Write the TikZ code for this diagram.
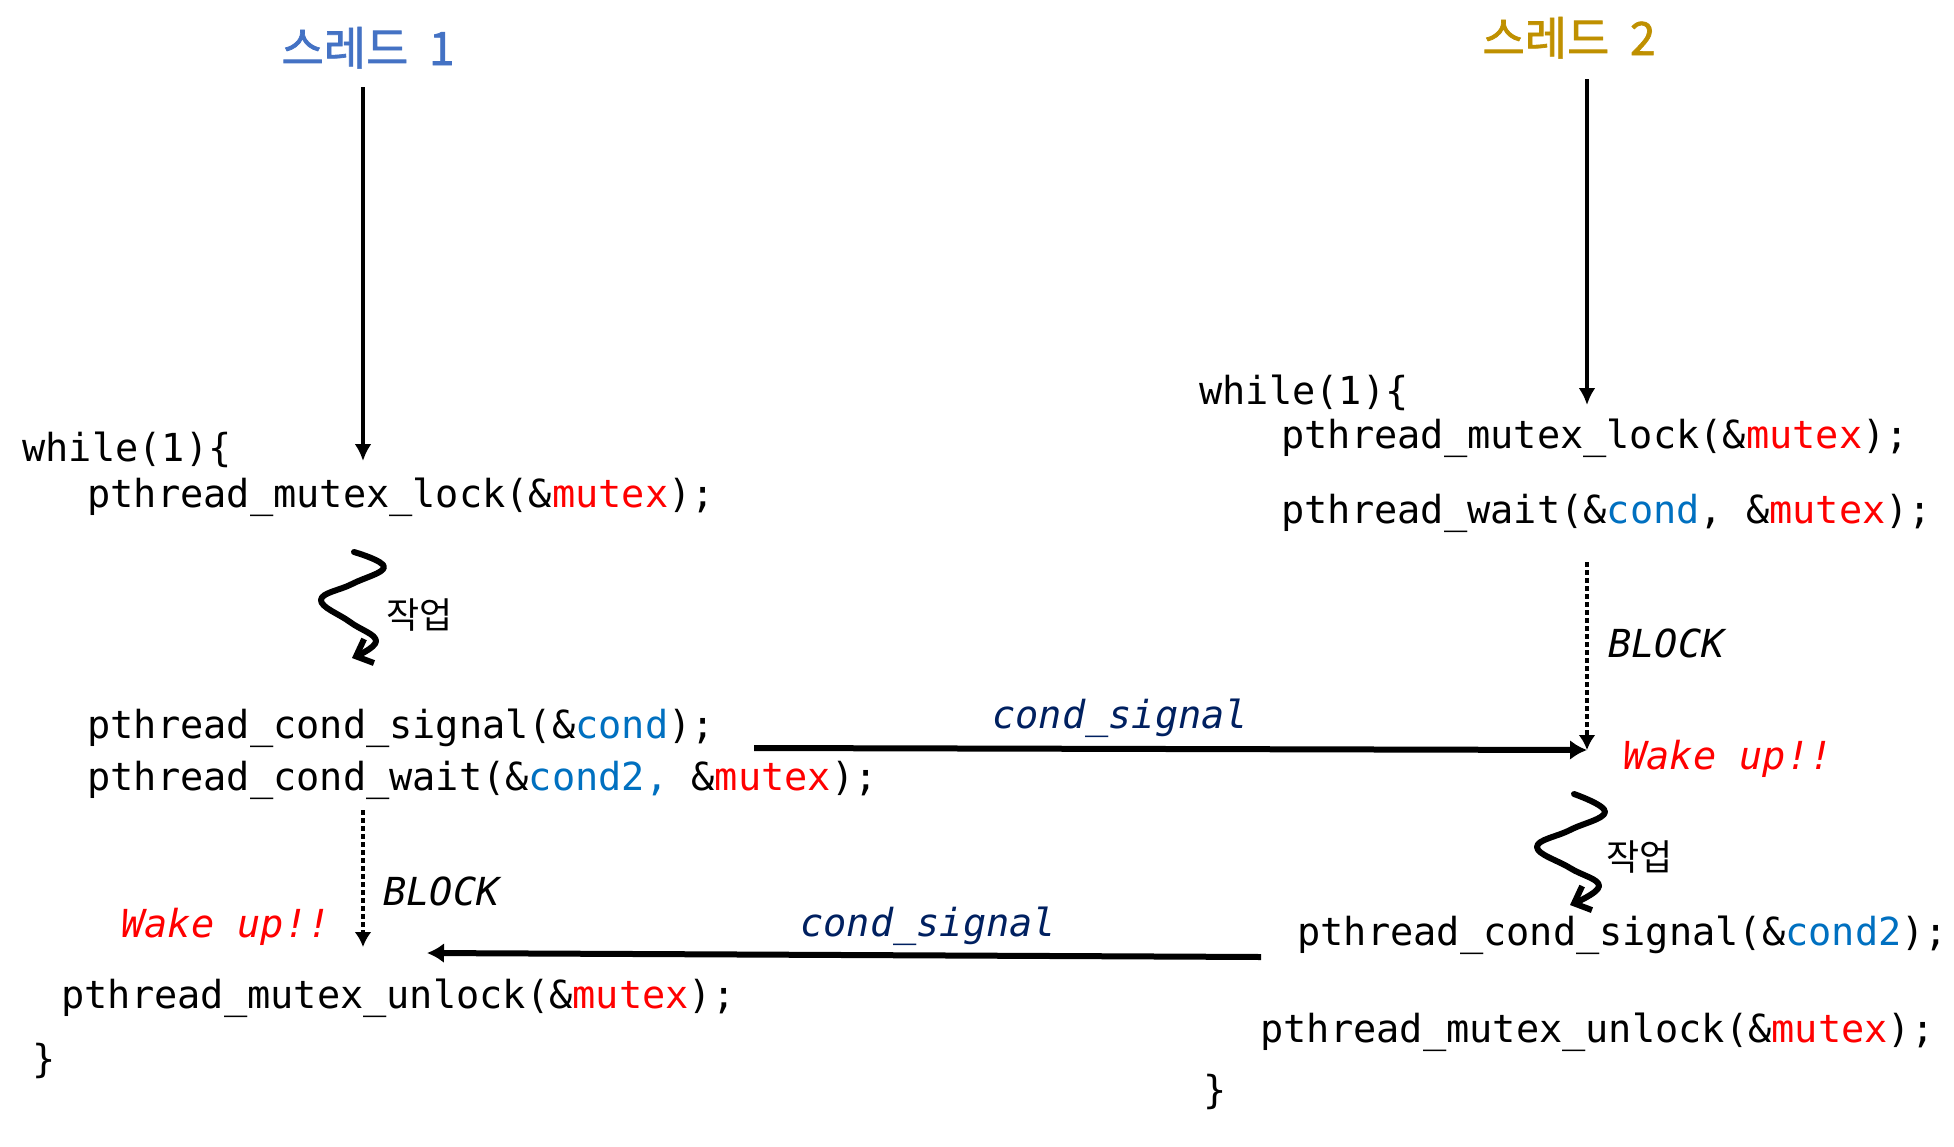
\documentclass[tikz,border=0pt]{standalone}
\usepackage{fontspec}
\setmonofont{DejaVu Sans Mono}[ItalicFont={DejaVu Sans Mono Oblique}]
\newfontfamily\kr{Noto Sans CJK KR}
\newfontfamily\krb{Noto Sans CJK KR}[FakeBold=1.5]
\usetikzlibrary{arrows.meta}
\definecolor{ttlblue}{HTML}{4472C4}
\definecolor{ttlgold}{HTML}{BF9000}
\definecolor{varblue}{HTML}{0070C0}
\definecolor{signavy}{HTML}{002060}
\definecolor{mxred}{HTML}{FF0000}
\tikzset{src/.style={anchor=base west, inner sep=0pt, font=\ttfamily\fontsize{19.3}{22}\selectfont}}
\tikzset{note/.style={src, font=\ttfamily\itshape\fontsize{19.3}{22}\selectfont}}
\tikzset{wake/.style={note, text=mxred}}
\tikzset{sig/.style={note, text=signavy}}
\tikzset{ttl/.style={anchor=base, inner sep=0pt, font=\krb\fontsize{23}{25}\selectfont}}
\tikzset{job/.style={anchor=base west, inner sep=0pt, font=\kr\fontsize{18}{20}\selectfont}}
\tikzset{flow/.style={line width=2pt, -{Latex[length=8.5pt,width=8.5pt]}}}
\tikzset{msg/.style={line width=3pt, -{Latex[length=8.5pt,width=10pt]}}}
\tikzset{block/.style={line width=2.3pt, dash pattern=on 2.5pt off 1.5pt, -{Latex[length=7.5pt,width=8.5pt]}}}
\tikzset{work/.style={line width=3pt, line cap=round, line join=round, -{Straight Barb[length=7pt,width=13pt]}}}
\newcommand{\mx}{\textcolor{mxred}{mutex}}
\newcommand{\cv}[1]{\textcolor{varblue}{#1}}

\begin{document}
\begin{tikzpicture}[x=0.5pt,y=-0.5pt]
\useasboundingbox (0,0) rectangle (1954,1146);
\node[ttl, text=ttlblue] (t1) at (368,65) {스레드\ \ 1};
\node[ttl, text=ttlgold] (t2) at (1569,55) {스레드\ \ 2};
% thread 1
\node[src] (while1) at (22,461) {while(1)\{};
\node[src] (lock1) at (87,507) {pthread\_mutex\_lock(\&\mx);};
\node[src] (signal1) at (87,738) {pthread\_cond\_signal(\&\cv{cond});};
\node[src] (wait1) at (87,790) {pthread\_cond\_wait(\&\cv{cond2,} \&\mx);};
\node[src] (unlock1) at (61,1008) {pthread\_mutex\_unlock(\&\mx);};
\node[src] (close1) at (32,1072) {\}};
\node[job] (job1) at (386,628) {작업};
\node[note] (block1) at (383,905) {BLOCK};
\node[wake] (wake1) at (121,937) {Wake up!!};
% thread 2
\node[src] (while2) at (1199,404) {while(1)\{};
\node[src] (lock2) at (1281,448) {pthread\_mutex\_lock(\&\mx);};
\node[src] (wait2) at (1281,523) {pthread\_wait(\&\cv{cond}, \&\mx);};
\node[src] (signal2) at (1297,945) {pthread\_cond\_signal(\&\cv{cond2});};
\node[src] (unlock2) at (1260,1042) {pthread\_mutex\_unlock(\&\mx);};
\node[src] (close2) at (1203,1103) {\}};
\node[job] (job2) at (1606,870) {작업};
\node[note] (block2) at (1608,657) {BLOCK};
\node[wake] (wake2) at (1623,769) {Wake up!!};
\node[sig] (sig1) at (992,728) {cond\_signal};
\node[sig] (sig2) at (800,936) {cond\_signal};
% arrow ends
\coordinate (top1) at (363,87);
\coordinate (in1) at (363,461);
\coordinate (top2) at (1587,79);
\coordinate (in2) at (1587,405);
\coordinate (blk1) at (363,810);
\coordinate (up1) at (363,947);
\coordinate (blk2) at (1587,562);
\coordinate (up2) at (1587,750);
\coordinate (out1) at (754,748);
\coordinate (out2) at (1261,957);
\coordinate (back1) at (427,953);
\draw[flow] (top1) -- (in1);
\draw[flow] (top2) -- (in2);
\draw[block] (blk1) -- (up1);
\draw[block] (blk2) -- (up2);
\draw[msg] (out1) -- (up2);
\draw[msg] (out2) -- (back1);
\draw[work] plot[smooth, tension=0.7] coordinates {(354,552) (384,567) (352,584) (321,600) (350,622) (376,641) (352,658)};
\draw[work] plot[smooth, tension=0.7] coordinates {(1574,794) (1605,812) (1570,830) (1537,847) (1570,868) (1599,886) (1570,905)};
\end{tikzpicture}
\end{document}
